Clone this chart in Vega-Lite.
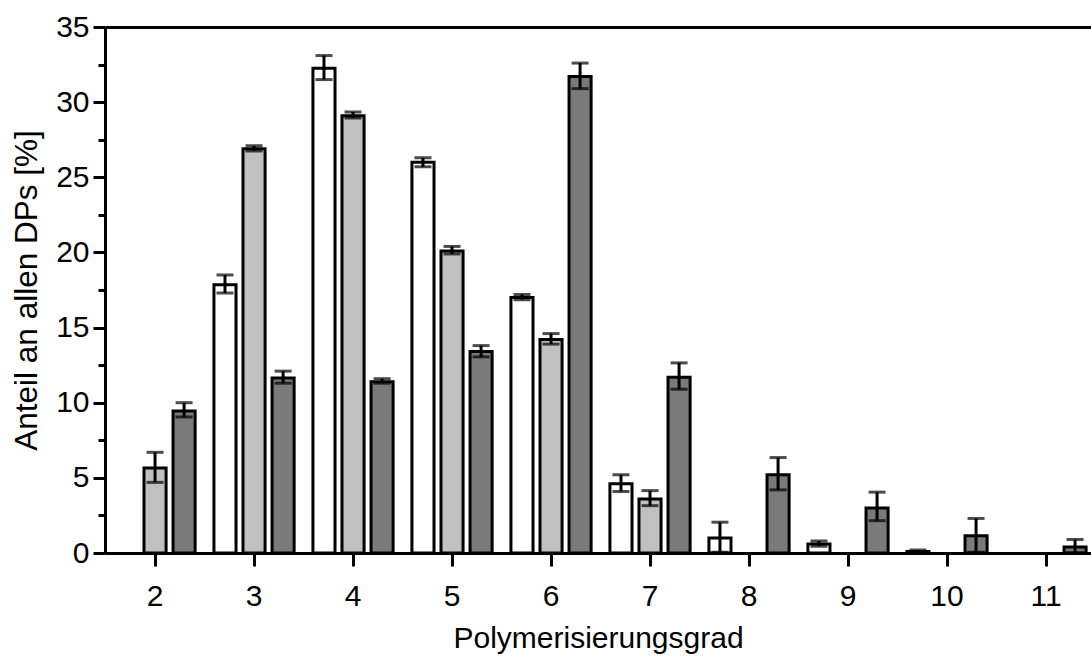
{
  "$schema": "https://vega.github.io/schema/vega-lite/v6.json",
  "autosize": {"type": "none"},
  "padding": {"left": 105, "top": 27, "right": 0, "bottom": 106},
  "width": 986,
  "height": 526,
  "background": "white",
  "config": {
    "view": {"stroke": null},
    "font": "Liberation Sans",
    "axis": {
      "labelFont": "Liberation Sans",
      "titleFont": "Liberation Sans",
      "labelFontSize": 30,
      "titleFontSize": 29,
      "titleFontWeight": "normal",
      "labelColor": "black",
      "titleColor": "black",
      "domainColor": "black",
      "tickColor": "black",
      "domainWidth": 3,
      "tickWidth": 3,
      "grid": false
    }
  },
  "data": {
    "values": [
      {"dp": "2", "series": "s2", "value": 5.65, "lo": 4.7, "hi": 6.7},
      {"dp": "2", "series": "s3", "value": 9.45, "lo": 9.05, "hi": 10.0},
      {"dp": "3", "series": "s1", "value": 17.85, "lo": 17.3, "hi": 18.5},
      {"dp": "3", "series": "s2", "value": 26.9, "lo": 26.75, "hi": 27.1},
      {"dp": "3", "series": "s3", "value": 11.65, "lo": 11.3, "hi": 12.1},
      {"dp": "4", "series": "s1", "value": 32.25, "lo": 31.5, "hi": 33.1},
      {"dp": "4", "series": "s2", "value": 29.1, "lo": 28.95, "hi": 29.35},
      {"dp": "4", "series": "s3", "value": 11.4, "lo": 11.3, "hi": 11.6},
      {"dp": "5", "series": "s1", "value": 26.0, "lo": 25.7, "hi": 26.3},
      {"dp": "5", "series": "s2", "value": 20.1, "lo": 19.9, "hi": 20.4},
      {"dp": "5", "series": "s3", "value": 13.4, "lo": 13.05, "hi": 13.8},
      {"dp": "6", "series": "s1", "value": 17.0, "lo": 16.85, "hi": 17.2},
      {"dp": "6", "series": "s2", "value": 14.2, "lo": 13.9, "hi": 14.6},
      {"dp": "6", "series": "s3", "value": 31.7, "lo": 30.9, "hi": 32.6},
      {"dp": "7", "series": "s1", "value": 4.6, "lo": 4.1, "hi": 5.2},
      {"dp": "7", "series": "s2", "value": 3.6, "lo": 3.15, "hi": 4.15},
      {"dp": "7", "series": "s3", "value": 11.7, "lo": 10.9, "hi": 12.65},
      {"dp": "8", "series": "s1", "value": 1.0, "lo": 0.05, "hi": 2.05},
      {"dp": "8", "series": "s3", "value": 5.2, "lo": 4.2, "hi": 6.35},
      {"dp": "9", "series": "s1", "value": 0.6, "lo": 0.45, "hi": 0.8},
      {"dp": "9", "series": "s3", "value": 3.0, "lo": 2.15, "hi": 4.05},
      {"dp": "10", "series": "s1", "value": 0.1, "lo": 0.0, "hi": 0.2},
      {"dp": "10", "series": "s3", "value": 1.15, "lo": 0.05, "hi": 2.3},
      {"dp": "11", "series": "s3", "value": 0.4, "lo": 0.0, "hi": 0.9}
    ]
  },
  "encoding": {
    "x": {
      "field": "dp",
      "type": "ordinal",
      "sort": ["2", "3", "4", "5", "6", "7", "8", "9", "10", "11"],
      "scale": {"domain": ["2", "3", "4", "5", "6", "7", "8", "9", "10", "11"], "paddingInner": 0.19, "paddingOuter": 0.075, "align": 0.67}
    },
    "xOffset": {
      "field": "series",
      "type": "nominal",
      "scale": {"domain": ["s1", "s2", "s3"], "paddingInner": 0.24, "paddingOuter": 0}
    }
  },
  "layer": [
    {
      "mark": {"type": "bar", "stroke": "black", "strokeWidth": 3},
      "encoding": {
        "x": {
          "field": "dp", "type": "ordinal",
          "sort": ["2", "3", "4", "5", "6", "7", "8", "9", "10", "11"],
          "axis": {"orient": "bottom", "title": "Polymerisierungsgrad", "labelAngle": 0, "tickSize": 13, "labelPadding": 15, "titlePadding": 12, "titleFontSize": 30, "domain": true, "ticks": true}
        },
        "y": {
          "field": "value", "type": "quantitative",
          "scale": {"domain": [0, 35], "nice": false, "zero": true},
          "axis": {"title": "Anteil an allen DPs [%]", "values": [0, 5, 10, 15, 20, 25, 30, 35], "tickSize": 12, "labelPadding": 4, "titlePadding": 12, "titleFontSize": 31.5}
        },
        "color": {
          "field": "series", "type": "nominal",
          "scale": {"domain": ["s1", "s2", "s3"], "range": ["#ffffff", "#c0c0c0", "#7a7a7a"]},
          "legend": null
        }
      }
    },
    {
      "mark": {"type": "rule", "color": "black", "strokeWidth": 3},
      "encoding": {
        "x": {"field": "dp", "type": "ordinal", "sort": ["2", "3", "4", "5", "6", "7", "8", "9", "10", "11"], "axis": null},
        "y": {"field": "lo", "type": "quantitative", "axis": null},
        "y2": {"field": "hi"}
      }
    },
    {
      "mark": {"type": "tick", "color": "black", "thickness": 3, "size": 17},
      "encoding": {
        "x": {"field": "dp", "type": "ordinal", "sort": ["2", "3", "4", "5", "6", "7", "8", "9", "10", "11"],
          "axis": {"orient": "top", "title": null, "labels": false, "ticks": false, "domain": true}},
        "y": {"field": "lo", "type": "quantitative",
          "axis": {"orient": "left", "title": null, "labels": false, "domain": false, "values": [2.5, 7.5, 12.5, 17.5, 22.5, 27.5, 32.5], "tickSize": 7}}
      }
    },
    {
      "mark": {"type": "tick", "color": "black", "thickness": 3, "size": 17},
      "encoding": {
        "x": {"field": "dp", "type": "ordinal", "sort": ["2", "3", "4", "5", "6", "7", "8", "9", "10", "11"], "axis": null},
        "y": {"field": "hi", "type": "quantitative", "axis": null}
      }
    }
  ],
  "resolve": {"axis": {"x": "independent", "y": "independent"}}
}
